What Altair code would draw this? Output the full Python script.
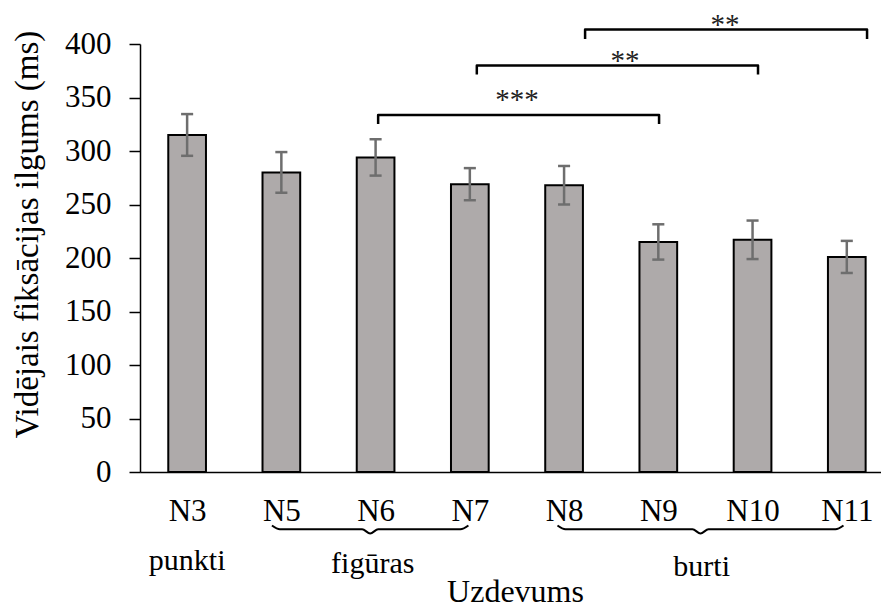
import json
import altair as alt
import pandas as pd

# Tasks (categories), mean fixation duration and error-bar half-lengths (ms)
categories = ["N3", "N5", "N6", "N7", "N8", "N9", "N10", "N11"]
means = [315, 280, 294, 269, 268, 215, 217, 201]
errors = [19.5, 19, 17, 15, 18, 16.5, 18, 15]

# Task groups shown under the axis: label, brace span (category index), label position
group_labels = ["punkti", "figūras", "burti"]
group_label_x = [0.0, 1.97, 5.46]
group_label_y = [-92, -94.5, -97]
brace_spans = [(0.90, 2.985), (3.93, 6.965)]

# Significance brackets: left/right (category index), bar height, end height, stars
sig_left = [2.027, 3.074, 4.223]
sig_right = [5.008, 6.058, 7.215]
sig_line = [333.6, 379.9, 413.6]
sig_end = [325.2, 371.5, 404.7]
sig_text = ["***", "**", "**"]
sig_text_x = [3.50, 4.647, 5.708]
sig_text_y = [339, 375.7, 409.4]

FONT = "Liberation Serif"
BAR_HALF = 0.2
CAP_HALF = 0.064

df = pd.DataFrame({"task": categories, "mean": means, "err": errors})
df["idx"] = range(len(df))
df["x0"] = df["idx"] - BAR_HALF
df["x1"] = df["idx"] + BAR_HALF
df["lo"] = df["mean"] - df["err"]
df["hi"] = df["mean"] + df["err"]
df["c0"] = df["idx"] - CAP_HALF
df["c1"] = df["idx"] + CAP_HALF

label_expr = json.dumps(categories) + "[datum.value]"

x_scale = alt.Scale(domain=[-0.5, 7.363], nice=False, zero=False)
y_scale = alt.Scale(domain=[0, 400], nice=False)

x_axis = alt.Axis(
    values=list(range(len(categories))),
    labelExpr=label_expr,
    ticks=False,
    grid=False,
    labelFlush=False,
    labelOverlap=False,
    labelFont=FONT,
    labelFontSize=31,
    labelColor="black",
    labelBaseline="alphabetic",
    labelPadding=48,
    domainColor="black",
    domainWidth=1.5,
    title="Uzdevums",
    titleFont=FONT,
    titleFontSize=32,
    titleFontWeight="normal",
    titleColor="black",
    titleX=375,
    titleY=129,
    titleBaseline="alphabetic",
    titleAlign="center",
)

y_axis = alt.Axis(
    values=list(range(0, 401, 50)),
    grid=False,
    labelFlush=False,
    labelFont=FONT,
    labelFontSize=31,
    labelColor="black",
    labelPadding=18,
    tickSize=11,
    tickColor="black",
    tickWidth=1.5,
    domainColor="black",
    domainWidth=1.5,
    title="Vidējais fiksācijas ilgums (ms)",
    titleFont=FONT,
    titleFontSize=33,
    titleFontWeight="normal",
    titleColor="black",
    titleAngle=-90,
    titleAlign="center",
    titleBaseline="alphabetic",
    titleX=-103,
    titleY=190,
)

bars = alt.Chart(df).mark_bar(
    color="#aeaaaa", stroke="black", strokeWidth=2
).encode(
    x=alt.X("x0:Q", scale=x_scale, axis=x_axis),
    x2="x1:Q",
    y=alt.Y("mean:Q", scale=y_scale, axis=y_axis),
    y2=alt.datum(0),
)

err_color = "#6e6e6e"
stems = alt.Chart(df).mark_rule(color=err_color, strokeWidth=2.5).encode(
    x="idx:Q", y="lo:Q", y2="hi:Q"
)
caps_hi = alt.Chart(df).mark_rule(color=err_color, strokeWidth=2.5).encode(
    x="c0:Q", x2="c1:Q", y="hi:Q"
)
caps_lo = alt.Chart(df).mark_rule(color=err_color, strokeWidth=2.5).encode(
    x="c0:Q", x2="c1:Q", y="lo:Q"
)

# Significance brackets as four-point polylines
br_rows = []
for k in range(len(sig_text)):
    pts = [
        (sig_left[k], sig_end[k]),
        (sig_left[k], sig_line[k]),
        (sig_right[k], sig_line[k]),
        (sig_right[k], sig_end[k]),
    ]
    for o, (px, py) in enumerate(pts):
        br_rows.append({"b": k, "o": o, "x": px, "y": py})
br_df = pd.DataFrame(br_rows)
brackets = alt.Chart(br_df).mark_line(
    color="black", strokeWidth=2.5, strokeJoin="round"
).encode(x="x:Q", y="y:Q", detail="b:N", order="o:Q")

stars_df = pd.DataFrame({"x": sig_text_x, "y": sig_text_y, "t": sig_text})
stars = alt.Chart(stars_df).mark_text(
    font=FONT, fontSize=29, color="#222222", baseline="alphabetic", align="center"
).encode(x="x:Q", y="y:Q", text="t:N")

# Curly braces under the category labels
TIP, MID, POINT, D = -50, -53.5, -57.5, 0.085
brace_rows = []
for g, (a, b) in enumerate(brace_spans):
    c = (a + b) / 2
    pts = [(a, TIP), (a + D, MID), (c - D, MID), (c, POINT),
           (c + D, MID), (b - D, MID), (b, TIP)]
    for o, (px, py) in enumerate(pts):
        brace_rows.append({"g": g, "o": o, "x": px, "y": py})
brace_df = pd.DataFrame(brace_rows)
braces = alt.Chart(brace_df).mark_line(
    color="black", strokeWidth=2, interpolate="monotone"
).encode(x="x:Q", y="y:Q", detail="g:N", order="o:Q")

groups_df = pd.DataFrame({"x": group_label_x, "y": group_label_y, "t": group_labels})
groups = alt.Chart(groups_df).mark_text(
    font=FONT, fontSize=30, color="black", baseline="alphabetic", align="center"
).encode(x="x:Q", y="y:Q", text="t:N")

chart = alt.layer(
    bars, stems, caps_hi, caps_lo, brackets, stars, braces, groups
).properties(
    width=741,
    height=428,
    autosize=alt.AutoSizeParams(type="none"),
    padding={"left": 140, "top": 44, "right": 0, "bottom": 135},
    background="white",
).configure_view(stroke=None)

chart.save("out.html", embed_options={"renderer": "svg", "actions": False})
